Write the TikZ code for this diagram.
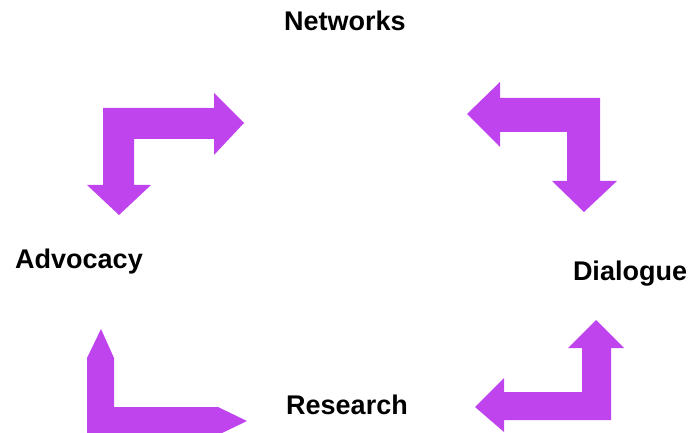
\documentclass[tikz,border=0pt]{standalone}
\usepackage{fontspec}
\setmainfont{Liberation Sans}
\definecolor{arrowpurple}{RGB}{192,68,238}
\tikzset{
  bigarrow/.style={fill=arrowpurple, draw=none},
  lbl/.style={anchor=base, inner sep=0pt, font=\fontsize{27}{32}\selectfont\bfseries}
}
\begin{document}
\begin{tikzpicture}[x=1pt,y=-1pt]
\useasboundingbox (0,0) rectangle (691,433);
\clip (0,0) rectangle (691,433);
% labels
\node[lbl] (networks) at (345,31) {Networks};
\node[lbl] (advocacy) at (79,268) {Advocacy};
\node[lbl] (dialogue) at (630,280) {Dialogue};
\node[lbl] (research) at (347,414) {Research};
% top-left bent arrow
\fill[bigarrow] (103,108) -- (214,108) -- (214,93) -- (244,123) -- (214,155) -- (214,139)
  -- (134,139) -- (134,185) -- (151,185) -- (119,215) -- (87,185) -- (103,185) -- cycle;
% top-right bent arrow
\fill[bigarrow] (467,114) -- (500,82) -- (500,98) -- (600,98) -- (600,181) -- (617,181)
  -- (584,212) -- (552,181) -- (567,181) -- (567,132) -- (500,132) -- (500,147) -- cycle;
% bottom-left bent arrow
\fill[bigarrow] (87,358) -- (101,329) -- (114,358) -- (114,407) -- (218,407) -- (247,421)
  -- (218,435) -- (87,435) -- cycle;
% bottom-right bent arrow
\fill[bigarrow] (475,407) -- (504,378) -- (504,392) -- (582,392) -- (582,348) -- (568,348)
  -- (596,320) -- (624,348) -- (611,348) -- (611,420) -- (504,420) -- (504,432) -- cycle;
\end{tikzpicture}
\end{document}
